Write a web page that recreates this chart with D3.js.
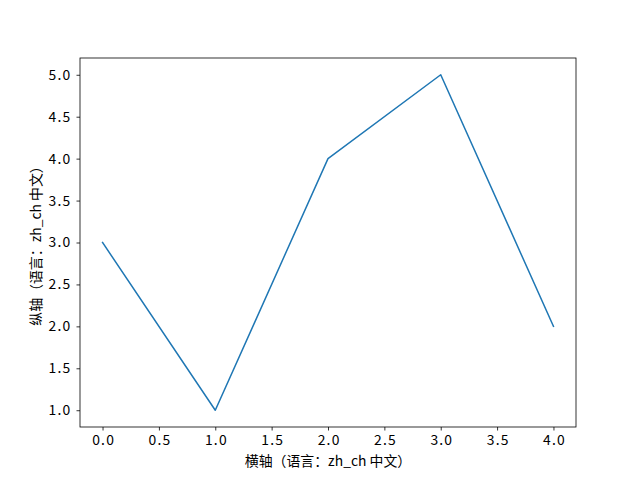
<!DOCTYPE html>
<html>
<head>
<meta charset="utf-8">
<script src="https://cdn.jsdelivr.net/npm/d3@7"></script>
<style>
  body { margin: 0; background: #fff; }
  text { font-family: "Noto Sans CJK SC", sans-serif; }
</style>
</head>
<body>
<script>
const svgWidth = 640;
const svgHeight = 480;
// data
const xValues = [0, 1, 2, 3, 4];
const yValues = [3, 1, 4, 5, 2];
const xTicks = [0, 0.5, 1, 1.5, 2, 2.5, 3, 3.5, 4];
const yTicks = [1, 1.5, 2, 2.5, 3, 3.5, 4, 4.5, 5];
const xLabel = "横轴（语言：zh_ch 中文）";
const yLabel = "纵轴（语言：zh_ch 中文）";

// axes box (matplotlib default subplot params)
const axLeft = 80, axRight = 576, axTop = 58, axBottom = 427;

const svg = d3.select("body").append("svg")
  .attr("width", svgWidth)
  .attr("height", svgHeight);

const xScale = d3.scaleLinear().domain([-0.2, 4.2]).range([axLeft, axRight]);
const yScale = d3.scaleLinear().domain([0.8, 5.2]).range([axBottom, axTop]);

const line = d3.line()
  .x((d, i) => xScale(xValues[i]))
  .y(d => yScale(d));

svg.append("path")
  .attr("d", line(yValues))
  .attr("fill", "none")
  .attr("stroke", "#1f77b4")
  .attr("stroke-width", 1.5)
  .attr("stroke-linejoin", "round")
  .attr("stroke-linecap", "square");

const xAxis = d3.axisBottom(xScale).tickValues(xTicks)
  .tickFormat(d3.format(".1f")).tickSize(3.5).tickPadding(5);
const yAxis = d3.axisLeft(yScale).tickValues(yTicks)
  .tickFormat(d3.format(".1f")).tickSize(3.5).tickPadding(5);

const gx = svg.append("g").attr("transform", "translate(0," + axBottom + ")").call(xAxis);
const gy = svg.append("g").attr("transform", "translate(" + axLeft + ",0)").call(yAxis);
[gx, gy].forEach(g => {
  g.select(".domain").remove();
  g.selectAll("line").attr("stroke", "#000").attr("stroke-width", 0.8);
  g.selectAll("text").attr("font-size", 13.9).attr("fill", "#000")
    .attr("letter-spacing", "1.2px")
    .attr("font-family", "\"Noto Sans CJK SC\", sans-serif");
});
// letter-spacing adds trailing space; nudge x labels to stay centred
gx.selectAll("text").attr("dx", "0.6px");

// frame
svg.append("rect")
  .attr("x", axLeft).attr("y", axTop)
  .attr("width", axRight - axLeft).attr("height", axBottom - axTop)
  .attr("fill", "none").attr("stroke", "#000").attr("stroke-width", 0.8);

svg.append("text")
  .attr("x", (axLeft + axRight) / 2).attr("y", 466)
  .attr("text-anchor", "middle").attr("font-size", 13.9)
  .text(xLabel);

svg.append("text")
  .attr("transform", "translate(41," + (axTop + axBottom) / 2 + ") rotate(-90)")
  .attr("text-anchor", "middle").attr("font-size", 13.9)
  .text(yLabel);
</script>
</body>
</html>
